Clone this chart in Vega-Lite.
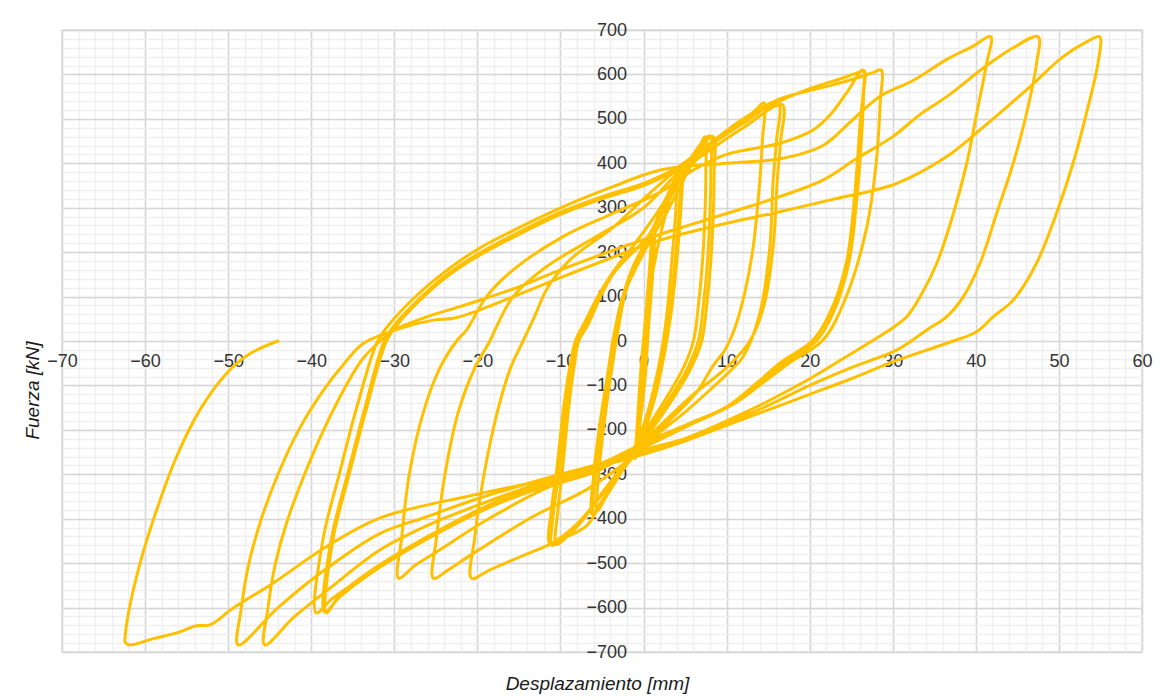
{
  "$schema": "https://vega.github.io/schema/vega-lite/v6.json",
  "width": 1080,
  "height": 622,
  "autosize": {"type": "none"},
  "padding": {"left": 62, "top": 30, "right": 25, "bottom": 48},
  "background": "white",
  "config": {"view": {"stroke": "#d9d9d9", "strokeWidth": 1.5}, "font": "Liberation Sans"},
  "data": {"values": [
    {"x":0,"y":0},
    {"x":0.5,"y":110},{"x":1.0,"y":230},{"x":0.8,"y":140},{"x":0.4,"y":40},{"x":0.0,"y":-60},{"x":-0.4,"y":-160},{"x":-0.8,"y":-250},{"x":-0.5,"y":-160},{"x":-0.2,"y":-60},{"x":0.1,"y":20},
    {"x":0.6,"y":130},{"x":1.2,"y":240},{"x":0.9,"y":140},{"x":0.5,"y":30},{"x":0.1,"y":-70},{"x":-0.4,"y":-170},{"x":-0.9,"y":-258},{"x":-0.6,"y":-165},{"x":-0.2,"y":-50},{"x":0.2,"y":30},
    {"x":0.8,"y":140},{"x":1.4,"y":250},{"x":1.1,"y":150},{"x":0.6,"y":30},{"x":0.2,"y":-80},{"x":-0.4,"y":-180},{"x":-1.0,"y":-265},{"x":-0.7,"y":-170},{"x":-0.3,"y":-60},{"x":0.1,"y":20},
    {"x":0.8,"y":120},{"x":1.8,"y":220},{"x":3.0,"y":310},{"x":4.0,"y":385},{"x":3.9,"y":300},{"x":3.4,"y":180},{"x":2.8,"y":60},{"x":2.2,"y":-20},{"x":1.2,"y":-110},{"x":0.0,"y":-190},{"x":-1.5,"y":-255},{"x":-3.0,"y":-305},{"x":-4.5,"y":-350},{"x":-5.6,"y":-383},{"x":-5.4,"y":-300},{"x":-4.7,"y":-180},{"x":-3.8,"y":-60},{"x":-3.1,"y":20},
    {"x":-2.3,"y":100},{"x":-1.0,"y":170},{"x":0.6,"y":230},{"x":2.2,"y":300},{"x":3.4,"y":350},{"x":4.4,"y":390},{"x":4.3,"y":300},{"x":3.8,"y":180},{"x":3.1,"y":60},{"x":2.4,"y":-20},{"x":1.3,"y":-120},{"x":0.0,"y":-200},{"x":-1.6,"y":-262},{"x":-3.2,"y":-310},{"x":-4.8,"y":-355},{"x":-6.0,"y":-387},{"x":-5.8,"y":-300},{"x":-5.0,"y":-180},{"x":-4.0,"y":-60},{"x":-3.3,"y":20},
    {"x":-2.5,"y":100},{"x":-1.2,"y":170},{"x":0.5,"y":230},{"x":2.3,"y":300},{"x":3.6,"y":355},{"x":4.6,"y":392},{"x":4.5,"y":300},{"x":4.0,"y":180},{"x":3.3,"y":60},{"x":2.6,"y":-20},{"x":1.4,"y":-125},{"x":0.0,"y":-205},{"x":-1.7,"y":-265},{"x":-3.4,"y":-315},{"x":-5.0,"y":-360},{"x":-6.2,"y":-390},{"x":-6.0,"y":-300},{"x":-5.2,"y":-180},{"x":-4.2,"y":-60},{"x":-3.5,"y":20},
    {"x":-2.5,"y":100},{"x":-1.3,"y":150},{"x":0.4,"y":212},{"x":2.8,"y":290},{"x":4.8,"y":362},{"x":6.4,"y":420},{"x":7.4,"y":460},{"x":7.5,"y":380},{"x":7.4,"y":290},{"x":7.1,"y":180},{"x":6.6,"y":80},{"x":6.0,"y":0},{"x":4.8,"y":-60},{"x":3.0,"y":-120},{"x":1.0,"y":-180},{"x":-0.5,"y":-225},{"x":-2.5,"y":-280},{"x":-5.3,"y":-350},{"x":-7.2,"y":-400},{"x":-9.2,"y":-440},{"x":-10.5,"y":-458},{"x":-10.3,"y":-380},{"x":-9.8,"y":-298},{"x":-9.0,"y":-148},{"x":-8.3,"y":-50},{"x":-7.8,"y":0},
    {"x":-6.6,"y":40},{"x":-5.3,"y":95},{"x":-3.7,"y":150},{"x":-1.6,"y":195},{"x":0.4,"y":232},{"x":2.0,"y":285},{"x":3.8,"y":350},{"x":5.6,"y":410},{"x":8.0,"y":462},{"x":8.1,"y":380},{"x":8.0,"y":290},{"x":7.7,"y":180},{"x":7.2,"y":80},{"x":6.6,"y":0},{"x":5.2,"y":-65},{"x":3.3,"y":-125},{"x":1.2,"y":-185},{"x":-0.6,"y":-232},{"x":-2.8,"y":-290},{"x":-5.6,"y":-360},{"x":-7.8,"y":-410},{"x":-9.8,"y":-445},{"x":-11.0,"y":-460},{"x":-10.8,"y":-380},{"x":-10.2,"y":-298},{"x":-9.3,"y":-148},{"x":-8.6,"y":-50},{"x":-8.0,"y":0},
    {"x":-6.8,"y":40},{"x":-5.5,"y":95},{"x":-3.8,"y":148},{"x":-1.7,"y":192},{"x":0.4,"y":230},{"x":2.2,"y":285},{"x":4.0,"y":350},{"x":5.8,"y":410},{"x":8.4,"y":460},{"x":8.5,"y":380},{"x":8.4,"y":290},{"x":8.1,"y":180},{"x":7.6,"y":80},{"x":7.0,"y":0},{"x":5.6,"y":-65},{"x":3.6,"y":-128},{"x":1.4,"y":-188},{"x":-0.6,"y":-236},{"x":-2.9,"y":-294},{"x":-5.8,"y":-365},{"x":-8.2,"y":-415},{"x":-10.2,"y":-445},{"x":-11.3,"y":-455},{"x":-11.1,"y":-380},{"x":-10.5,"y":-298},{"x":-9.6,"y":-148},{"x":-8.8,"y":-50},{"x":-8.2,"y":0},
    {"x":-7.0,"y":45},{"x":-5.5,"y":100},{"x":-3.5,"y":160},{"x":-1.0,"y":220},{"x":1.5,"y":285},{"x":4.0,"y":355},{"x":6.0,"y":400},{"x":8.8,"y":452},{"x":11.6,"y":490},{"x":13.5,"y":520},{"x":14.5,"y":536},{"x":14.3,"y":450},{"x":14.0,"y":362},{"x":13.2,"y":212},{"x":12.2,"y":110},{"x":11.0,"y":30},{"x":9.8,"y":-20},{"x":8.4,"y":-55},{"x":6.4,"y":-115},{"x":3.6,"y":-170},{"x":0.5,"y":-225},{"x":-2.5,"y":-290},{"x":-5.0,"y":-360},{"x":-6.8,"y":-415},{"x":-10.1,"y":-448},{"x":-15.3,"y":-489},{"x":-18.5,"y":-515},{"x":-20.7,"y":-534},{"x":-20.3,"y":-440},{"x":-19.2,"y":-300},{"x":-17.6,"y":-160},{"x":-16.0,"y":-60},{"x":-14.5,"y":0},
    {"x":-13.0,"y":60},{"x":-11.7,"y":115},{"x":-8.9,"y":182},{"x":-3.7,"y":255},{"x":0.0,"y":320},{"x":4.0,"y":385},{"x":8.0,"y":440},{"x":12.0,"y":490},{"x":16.2,"y":535},{"x":16.0,"y":450},{"x":15.6,"y":362},{"x":15.2,"y":212},{"x":14.0,"y":62},{"x":12.0,"y":-35},{"x":10.0,"y":-75},{"x":8.0,"y":-110},{"x":5.0,"y":-160},{"x":2.0,"y":-205},{"x":0.0,"y":-240},{"x":-3.0,"y":-285},{"x":-6.9,"y":-335},{"x":-13.3,"y":-395},{"x":-20.5,"y":-478},{"x":-23.5,"y":-515},{"x":-25.3,"y":-534},{"x":-24.9,"y":-440},{"x":-23.9,"y":-300},{"x":-22.3,"y":-160},{"x":-20.3,"y":-60},{"x":-18.5,"y":0},
    {"x":-17.7,"y":32},{"x":-15.7,"y":100},{"x":-11.7,"y":167},{"x":-5.7,"y":235},{"x":0.0,"y":300},{"x":4.0,"y":375},{"x":8.0,"y":430},{"x":12.0,"y":480},{"x":16.7,"y":532},{"x":16.5,"y":450},{"x":16.1,"y":362},{"x":15.6,"y":212},{"x":14.5,"y":80},{"x":12.8,"y":0},{"x":10.0,"y":-60},{"x":6.0,"y":-120},{"x":2.0,"y":-190},{"x":0.0,"y":-225},{"x":-5.3,"y":-290},{"x":-11.3,"y":-328},{"x":-18.9,"y":-403},{"x":-24.5,"y":-470},{"x":-27.5,"y":-505},{"x":-29.5,"y":-534},{"x":-29.1,"y":-440},{"x":-28.2,"y":-300},{"x":-26.5,"y":-160},{"x":-24.5,"y":-60},{"x":-22.5,"y":0},
    {"x":-21.3,"y":25},{"x":-18.9,"y":100},{"x":-15.7,"y":160},{"x":-9.7,"y":235},{"x":-3.7,"y":287},{"x":2.0,"y":335},{"x":6.0,"y":385},{"x":10.0,"y":420},{"x":16.4,"y":445},{"x":20.4,"y":475},{"x":22.5,"y":510},{"x":24.5,"y":560},{"x":26.4,"y":610},{"x":26.0,"y":475},{"x":25.4,"y":325},{"x":24.4,"y":175},{"x":22.4,"y":62},{"x":20.4,"y":2},{"x":16.4,"y":-50},{"x":13.6,"y":-95},{"x":10.0,"y":-148},{"x":5.6,"y":-185},{"x":0.0,"y":-230},{"x":-5.0,"y":-275},{"x":-9.3,"y":-305},{"x":-17.3,"y":-358},{"x":-25.3,"y":-433},{"x":-33.3,"y":-523},{"x":-36.5,"y":-570},{"x":-38.2,"y":-612},{"x":-37.4,"y":-448},{"x":-35.4,"y":-298},{"x":-33.3,"y":-148},{"x":-30.9,"y":2},
    {"x":-29.5,"y":40},{"x":-27.0,"y":90},{"x":-24.0,"y":140},{"x":-20.0,"y":190},{"x":-15.0,"y":240},{"x":-10.0,"y":285},{"x":-5.0,"y":320},{"x":0.0,"y":350},{"x":4.0,"y":385},{"x":8.0,"y":440},{"x":12.0,"y":495},{"x":16.4,"y":540},{"x":20.0,"y":568},{"x":24.0,"y":592},{"x":25.8,"y":604},{"x":26.6,"y":608},{"x":26.5,"y":560},{"x":26.3,"y":475},{"x":25.7,"y":325},{"x":24.7,"y":175},{"x":22.8,"y":62},{"x":20.8,"y":0},{"x":17.0,"y":-50},{"x":14.0,"y":-95},{"x":10.5,"y":-145},{"x":6.0,"y":-185},{"x":0.0,"y":-235},{"x":-5.0,"y":-280},{"x":-9.5,"y":-310},{"x":-17.5,"y":-365},{"x":-25.5,"y":-440},{"x":-33.0,"y":-525},{"x":-36.5,"y":-575},{"x":-38.4,"y":-610},{"x":-37.6,"y":-448},{"x":-35.6,"y":-298},{"x":-33.5,"y":-148},{"x":-31.2,"y":0},
    {"x":-29.8,"y":40},{"x":-27.0,"y":95},{"x":-24.0,"y":145},{"x":-20.0,"y":195},{"x":-15.0,"y":245},{"x":-10.0,"y":290},{"x":-5.0,"y":325},{"x":0.0,"y":355},{"x":4.0,"y":390},{"x":8.0,"y":445},{"x":12.0,"y":500},{"x":16.4,"y":545},{"x":21.0,"y":568},{"x":25.0,"y":588},{"x":27.6,"y":604},{"x":28.6,"y":610},{"x":28.5,"y":540},{"x":28.0,"y":400},{"x":26.8,"y":250},{"x":24.4,"y":100},{"x":21.6,"y":2},{"x":17.5,"y":-50},{"x":14.5,"y":-92},{"x":11.0,"y":-140},{"x":6.0,"y":-185},{"x":0.0,"y":-240},{"x":-5.0,"y":-285},{"x":-10.0,"y":-315},{"x":-18.0,"y":-370},{"x":-26.0,"y":-445},{"x":-34.0,"y":-535},{"x":-37.5,"y":-580},{"x":-39.4,"y":-612},{"x":-38.6,"y":-448},{"x":-36.6,"y":-298},{"x":-34.5,"y":-148},{"x":-32.0,"y":0},
    {"x":-30.5,"y":40},{"x":-28.0,"y":90},{"x":-25.0,"y":140},{"x":-20.1,"y":205},{"x":-15.0,"y":255},{"x":-9.7,"y":302},{"x":-4.0,"y":345},{"x":2.0,"y":385},{"x":10.0,"y":400},{"x":16.4,"y":410},{"x":21.6,"y":440},{"x":25.0,"y":495},{"x":28.4,"y":550},{"x":32.5,"y":587},{"x":36.5,"y":634},{"x":39.5,"y":662},{"x":41.8,"y":685},{"x":41.3,"y":625},{"x":40.1,"y":512},{"x":38.9,"y":400},{"x":37.3,"y":287},{"x":35.3,"y":175},{"x":33.3,"y":100},{"x":31.7,"y":55},{"x":30.0,"y":30},{"x":27.5,"y":0},{"x":24.0,"y":-40},{"x":20.0,"y":-85},{"x":15.0,"y":-135},{"x":10.0,"y":-180},{"x":5.0,"y":-220},{"x":0.0,"y":-250},{"x":-5.0,"y":-280},{"x":-10.0,"y":-305},{"x":-20.0,"y":-370},{"x":-26.0,"y":-415},{"x":-31.7,"y":-470},{"x":-38.0,"y":-560},{"x":-42.0,"y":-620},{"x":-45.6,"y":-684},{"x":-45.2,"y":-600},{"x":-44.3,"y":-500},{"x":-42.8,"y":-400},{"x":-40.8,"y":-300},{"x":-38.5,"y":-200},{"x":-35.8,"y":-100},{"x":-33.8,"y":-40},{"x":-31.7,"y":0},
    {"x":-30.0,"y":25},{"x":-26.0,"y":55},{"x":-22.0,"y":78},{"x":-20.0,"y":90},{"x":-15.0,"y":122},{"x":-10.0,"y":160},{"x":-5.0,"y":195},{"x":0.0,"y":228},{"x":5.0,"y":258},{"x":10.0,"y":287},{"x":16.4,"y":325},{"x":21.6,"y":362},{"x":25.6,"y":410},{"x":30.0,"y":460},{"x":33.3,"y":510},{"x":36.5,"y":550},{"x":41.3,"y":620},{"x":44.5,"y":660},{"x":47.5,"y":685},{"x":47.3,"y":625},{"x":46.1,"y":512},{"x":44.5,"y":400},{"x":42.5,"y":287},{"x":40.5,"y":175},{"x":38.5,"y":100},{"x":36.5,"y":55},{"x":34.1,"y":25},{"x":30.5,"y":-20},{"x":25.0,"y":-60},{"x":20.0,"y":-100},{"x":15.0,"y":-145},{"x":10.0,"y":-185},{"x":5.0,"y":-220},{"x":0.0,"y":-245},{"x":-5.0,"y":-275},{"x":-10.0,"y":-300},{"x":-20.0,"y":-355},{"x":-26.0,"y":-395},{"x":-31.7,"y":-433},{"x":-38.0,"y":-510},{"x":-44.0,"y":-600},{"x":-48.8,"y":-684},{"x":-48.4,"y":-600},{"x":-47.5,"y":-500},{"x":-46.0,"y":-400},{"x":-44.0,"y":-300},{"x":-41.5,"y":-200},{"x":-38.5,"y":-110},{"x":-36.0,"y":-50},{"x":-33.7,"y":-5},
    {"x":-29.0,"y":30},{"x":-25.3,"y":47},{"x":-22.9,"y":51},{"x":-19.7,"y":70},{"x":-15.0,"y":105},{"x":-9.7,"y":145},{"x":-2.5,"y":197},{"x":2.0,"y":227},{"x":10.0,"y":265},{"x":16.4,"y":291},{"x":22.4,"y":317},{"x":30.5,"y":355},{"x":36.5,"y":415},{"x":40.5,"y":475},{"x":46.5,"y":572},{"x":50.5,"y":640},{"x":53.5,"y":675},{"x":54.9,"y":685},{"x":54.7,"y":625},{"x":53.3,"y":512},{"x":51.7,"y":400},{"x":49.7,"y":287},{"x":47.3,"y":175},{"x":44.5,"y":92},{"x":42.1,"y":55},{"x":40.1,"y":21},{"x":36.5,"y":-5},{"x":30.0,"y":-47},{"x":25.0,"y":-85},{"x":20.0,"y":-120},{"x":15.0,"y":-155},{"x":10.0,"y":-190},{"x":5.0,"y":-225},{"x":0.0,"y":-255},{"x":-10.0,"y":-305},{"x":-20.0,"y":-345},{"x":-31.7,"y":-398},{"x":-38.2,"y":-463},{"x":-44.6,"y":-545},{"x":-49.4,"y":-601},{"x":-52.2,"y":-639},{"x":-53.8,"y":-641},{"x":-56.2,"y":-657},{"x":-59.0,"y":-670},{"x":-61.8,"y":-684},{"x":-62.4,"y":-678},
    {"x":-62.4,"y":-666},{"x":-62.0,"y":-612},{"x":-60.6,"y":-500},{"x":-58.6,"y":-380},{"x":-56.2,"y":-260},{"x":-53.4,"y":-155},{"x":-50.2,"y":-73},{"x":-47.5,"y":-30},{"x":-44.0,"y":0}
  ]},
  "layer": [
    {
      "mark": {"type": "line", "opacity": 0},
      "encoding": {
        "x": {"field": "x", "type": "quantitative", "scale": {"domain": [-70, 60], "nice": false, "zero": false},
          "axis": {"orient": "bottom", "values": [-70,-68,-66,-64,-62,-60,-58,-56,-54,-52,-50,-48,-46,-44,-42,-40,-38,-36,-34,-32,-30,-28,-26,-24,-22,-20,-18,-16,-14,-12,-10,-8,-6,-4,-2,0,2,4,6,8,10,12,14,16,18,20,22,24,26,28,30,32,34,36,38,40,42,44,46,48,50,52,54,56,58,60],
            "grid": true, "gridColor": "#efefef", "gridWidth": 1.5, "labels": false, "ticks": false, "domain": false, "title": null}},
        "y": {"field": "y", "type": "quantitative", "scale": {"domain": [-700, 700], "nice": false, "zero": false},
          "axis": {"orient": "left", "values": [-700,-680,-660,-640,-620,-600,-580,-560,-540,-520,-500,-480,-460,-440,-420,-400,-380,-360,-340,-320,-300,-280,-260,-240,-220,-200,-180,-160,-140,-120,-100,-80,-60,-40,-20,0,20,40,60,80,100,120,140,160,180,200,220,240,260,280,300,320,340,360,380,400,420,440,460,480,500,520,540,560,580,600,620,640,660,680,700],
            "grid": true, "gridColor": "#efefef", "gridWidth": 1.5, "labels": false, "ticks": false, "domain": false, "title": null}},
        "order": {"value": null}
      }
    },
    {
      "mark": {"type": "line", "opacity": 0},
      "encoding": {
        "x": {"field": "x", "type": "quantitative", "scale": {"domain": [-70, 60], "nice": false, "zero": false},
          "axis": {"orient": "bottom", "values": [-70,-60,-50,-40,-30,-20,-10,0,10,20,30,40,50,60],
            "grid": true, "gridColor": "#d6d6d6", "gridWidth": 1.5, "labels": false, "ticks": false, "domain": false,
            "title": "Desplazamiento [mm]", "titleFont": "Liberation Sans", "titleFontSize": 19, "titleFontStyle": "italic", "titleFontWeight": "normal", "titleColor": "#1a1a1a",
            "titleX": 535, "titleY": 37, "titleBaseline": "alphabetic", "titleAlign": "center", "titleAnchor": null}},
        "y": {"field": "y", "type": "quantitative", "scale": {"domain": [-700, 700], "nice": false, "zero": false},
          "axis": {"orient": "left", "values": [-700,-600,-500,-400,-300,-200,-100,0,100,200,300,400,500,600,700],
            "grid": true, "gridColor": "#d6d6d6", "gridWidth": 1.5, "labels": false, "ticks": false, "domain": false,
            "title": "Fuerza [kN]", "titleFont": "Liberation Sans", "titleFontSize": 19, "titleFontStyle": "italic", "titleFontWeight": "normal", "titleColor": "#1a1a1a",
            "titleX": -24, "titleY": 360, "titleAngle": -90, "titleBaseline": "alphabetic", "titleAlign": "center", "titleAnchor": null}},
        "order": {"value": null}
      }
    },
    {
      "mark": {"type": "line", "color": "#FFC000", "strokeWidth": 3, "interpolate": "catmull-rom", "strokeJoin": "round", "strokeCap": "round"},
      "encoding": {
        "x": {"field": "x", "type": "quantitative", "scale": {"domain": [-70, 60], "nice": false, "zero": false},
          "axis": {"orient": "bottom", "offset": -311, "values": [-70,-60,-50,-40,-30,-20,-10,0,10,20,30,40,50,60],
            "grid": false, "ticks": false, "domain": false, "labelFlush": false, "labelOverlap": false, "labelBound": false,
            "labelFont": "Liberation Sans", "labelFontSize": 18, "labelColor": "#333333", "labelPadding": 11, "title": null}},
        "y": {"field": "y", "type": "quantitative", "scale": {"domain": [-700, 700], "nice": false, "zero": false},
          "axis": {"orient": "left", "offset": -581.5, "values": [-700,-600,-500,-400,-300,-200,-100,0,100,200,300,400,500,600,700],
            "grid": false, "ticks": false, "domain": false, "labelFlush": false, "labelOverlap": false, "labelBound": false,
            "labelFont": "Liberation Sans", "labelFontSize": 18, "labelColor": "#333333", "labelPadding": 17, "title": null}},
        "order": {"value": null}
      }
    }
  ],
  "resolve": {"axis": {"x": "independent", "y": "independent"}}
}
